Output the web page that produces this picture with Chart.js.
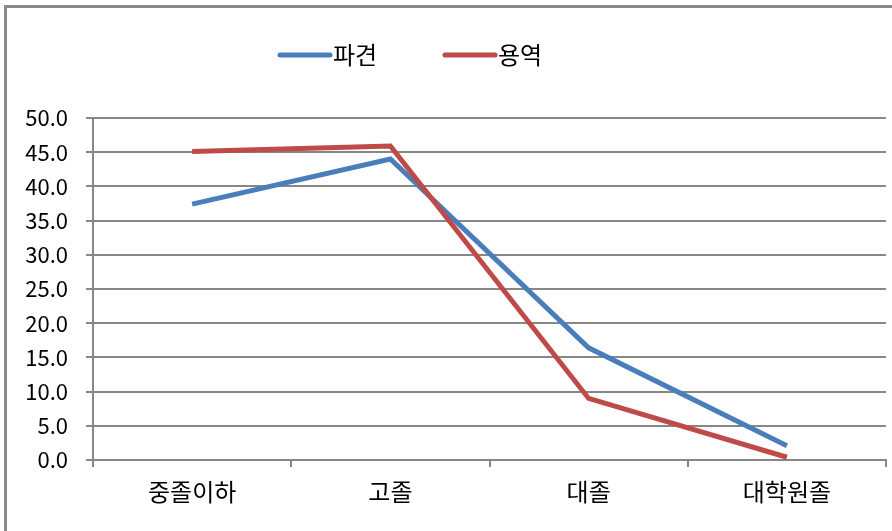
<!DOCTYPE html>
<html><head><meta charset="utf-8">
<script src="https://cdn.jsdelivr.net/npm/chart.js@4/dist/chart.umd.min.js"></script>
<style>
html,body{margin:0;padding:0;background:#fff;}
#wrap{position:relative;width:892px;height:531px;}
#frame{position:absolute;left:4px;top:5px;right:-10px;bottom:-10px;border-top:3px solid #8a8a8a;border-left:3px solid #8a8a8a;pointer-events:none;}
canvas{position:absolute;left:0;top:0;}
</style></head>
<body><div id="wrap"><canvas id="c" width="892" height="531"></canvas><div id="frame"></div></div>
<script>
const categories = ['중졸이하', '고졸', '대졸', '대학원졸'];
const seriesNames = ['파견', '용역'];
const dispatchValues = [37.4, 44.0, 16.4, 2.1];
const serviceValues = [45.1, 45.9, 9.0, 0.4];
const yTicks = [0, 5, 10, 15, 20, 25, 30, 35, 40, 45, 50];

const FONT = '"Noto Sans CJK KR", "Noto Sans", sans-serif';
const gridColor = '#878787';

const legendPlugin = {
  id: 'customLegend',
  afterDraw(chart, args, opts) {
    const ctx = chart.ctx;
    const y = opts.y;
    ctx.save();
    ctx.font = opts.fontSize + 'px ' + FONT;
    ctx.textBaseline = 'middle';
    ctx.textAlign = 'left';
    chart.data.datasets.forEach((ds, i) => {
      const x = opts.itemX[i];
      ctx.strokeStyle = ds.borderColor;
      ctx.lineWidth = 5;
      ctx.lineCap = 'round';
      ctx.beginPath();
      ctx.moveTo(x + 2, y);
      ctx.lineTo(x + opts.lineLen - 2, y);
      ctx.stroke();
      ctx.fillStyle = '#000';
      ctx.fillText(ds.label, x + opts.lineLen + 1, y);
    });
    ctx.restore();
  }
};

new Chart(document.getElementById('c'), {
  type: 'line',
  data: {
    labels: categories,
    datasets: [
      { label: seriesNames[0], data: dispatchValues, borderColor: '#4A7EBB', backgroundColor: '#4A7EBB', borderWidth: 5, pointRadius: 0, tension: 0, order: 1 },
      { label: seriesNames[1], data: serviceValues, borderColor: '#BE4B48', backgroundColor: '#BE4B48', borderWidth: 5, pointRadius: 0, tension: 0, order: 0 }
    ]
  },
  options: {
    responsive: false,
    animation: false,
    events: [],
    layout: { padding: { left: 0, right: 6, top: 118, bottom: 0 } },
    plugins: {
      legend: { display: false },
      tooltip: { enabled: false },
      customLegend: { itemX: [278, 443], y: 55, lineLen: 54, fontSize: 24 }
    },
    scales: {
      x: {
        offset: true,
        grid: { offset: true, drawOnChartArea: false, drawTicks: true, tickLength: 7, color: gridColor, lineWidth: 2 },
        border: { display: true, color: gridColor, width: 2 },
        ticks: { color: '#000', font: { family: FONT, size: 24 }, padding: 10, maxRotation: 0 },
        afterFit(scale) { scale.height = 71; }
      },
      y: {
        min: 0, max: 50,
        afterBuildTicks(scale) { scale.ticks = yTicks.map(v => ({ value: v })); },
        grid: { color: gridColor, lineWidth: 2, tickLength: 7, drawTicks: true },
        border: { display: true, color: gridColor, width: 2 },
        ticks: { color: '#000', font: { family: FONT, size: 22 }, padding: 18, callback: v => Number(v).toFixed(1) },
        afterFit(scale) { scale.width = 93; }
      }
    }
  },
  plugins: [legendPlugin]
});
</script>
</body></html>
